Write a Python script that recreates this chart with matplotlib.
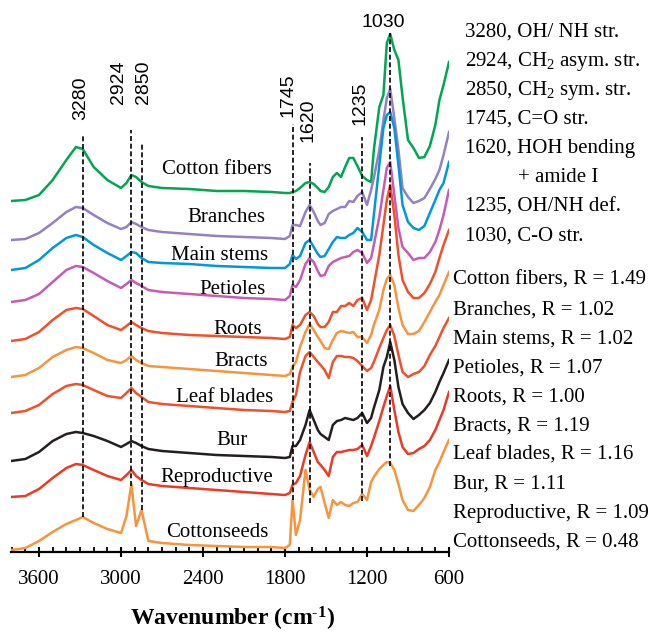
#!/usr/bin/env python3
import matplotlib
matplotlib.use('Agg')
import matplotlib.pyplot as plt
from matplotlib.ticker import MultipleLocator

plt.rcParams['font.family'] = 'Liberation Serif'
plt.rcParams['mathtext.fontset'] = 'custom'
plt.rcParams['mathtext.rm'] = 'Liberation Serif'
plt.rcParams['mathtext.it'] = 'Liberation Serif:italic'
plt.rcParams['mathtext.bf'] = 'Liberation Serif:bold'

wavenumber = [3805, 3700, 3600, 3500, 3400, 3330, 3280, 3200, 3100, 3000,
              2960, 2924, 2890, 2850, 2800, 2700, 2500, 2300, 2100, 1900,
              1800, 1765, 1745, 1720, 1690, 1650, 1620, 1590, 1560, 1540,
              1510, 1480, 1450, 1420, 1390, 1360, 1330, 1300, 1270, 1235,
              1200, 1170, 1150, 1110, 1080, 1055, 1030, 1000, 970, 940,
              900, 860, 820, 780, 740, 700, 670, 640, 600]

# stacked absorbance (arbitrary units)
cotton_fibers = [350, 351, 356, 371, 391, 404, 402, 384, 371, 363,
                 368, 376, 374, 369, 365, 363, 362, 360, 360, 359,
                 358, 358, 359, 360, 363, 368, 369, 367, 363, 360,
                 359, 364, 374, 378, 374, 384, 393, 393, 385, 375,
                 371, 369, 401, 444, 456, 508, 517, 501, 491, 454,
                 411, 403, 393, 394, 405, 426, 451, 466, 489]
branches = [311, 312, 318, 328, 339, 344, 343, 336, 328, 322,
            324, 329, 327, 324, 321, 319, 317, 315, 314, 313,
            312, 315, 326, 326, 325, 339, 346, 339, 330, 326,
            328, 337, 340, 342, 344, 344, 350, 349, 355, 359,
            346, 361, 373, 401, 431, 453, 462, 433, 401, 363,
            354, 348, 350, 353, 362, 372, 381, 396, 419]
main_stems = [281, 283, 291, 303, 313, 316, 314, 306, 298, 291,
              295, 299, 298, 293, 289, 288, 287, 285, 284, 283,
              283, 287, 296, 292, 295, 308, 311, 304, 297, 294,
              295, 302, 309, 314, 313, 313, 316, 318, 323, 319,
              311, 311, 336, 386, 423, 436, 439, 423, 386, 346,
              329, 323, 321, 325, 338, 351, 361, 368, 389]
petioles = [249, 251, 257, 269, 281, 285, 284, 278, 270, 263,
            267, 271, 268, 265, 261, 259, 257, 255, 253, 252,
            251, 255, 266, 264, 271, 287, 293, 289, 280, 275,
            276, 285, 289, 291, 293, 294, 295, 299, 301, 298,
            288, 293, 306, 334, 361, 383, 389, 356, 323, 304,
            298, 291, 293, 293, 299, 309, 321, 336, 361]
roots = [210, 212, 219, 231, 241, 243, 242, 235, 226, 221,
         225, 229, 226, 223, 220, 218, 216, 215, 214, 213,
         212, 214, 226, 223, 226, 236, 239, 235, 227, 224,
         224, 229, 239, 239, 245, 245, 248, 245, 251, 253,
         241, 251, 266, 296, 326, 351, 366, 336, 296, 271,
         259, 253, 253, 258, 267, 279, 293, 306, 321]
bracts = [174, 176, 183, 194, 201, 204, 203, 198, 191, 188,
          191, 195, 191, 188, 185, 184, 182, 180, 178, 176,
          175, 177, 184, 189, 204, 219, 227, 221, 214, 210,
          203, 202, 211, 218, 220, 219, 218, 219, 214, 214,
          208, 216, 226, 241, 261, 272, 276, 266, 243, 226,
          217, 217, 220, 229, 239, 249, 256, 266, 279]
leaf_blades = [138, 140, 146, 157, 165, 167, 166, 161, 155, 153,
               158, 163, 158, 154, 149, 147, 145, 143, 141, 140,
               139, 140, 149, 156, 179, 195, 199, 194, 189, 186,
               181, 173, 189, 195, 195, 194, 194, 193, 190, 185,
               180, 183, 189, 203, 213, 221, 226, 215, 196, 179,
               174, 177, 179, 185, 196, 205, 214, 223, 233]
bur = [90, 92, 99, 110, 117, 119, 118, 115, 110, 104,
       107, 110, 108, 105, 102, 100, 98, 96, 95, 94,
       93, 94, 105, 105, 111, 126, 141, 131, 121, 117,
       114, 111, 126, 130, 131, 133, 132, 131, 133, 138,
       128, 133, 143, 161, 184, 194, 209, 191, 164, 147,
       138, 132, 136, 141, 148, 159, 169, 178, 191]
reproductive = [54, 55, 62, 73, 83, 87, 86, 81, 75, 71,
                76, 81, 75, 71, 67, 65, 63, 61, 59, 57,
                56, 58, 66, 68, 75, 96, 109, 99, 89, 86,
                81, 75, 94, 99, 99, 100, 101, 101, 102, 106,
                95, 105, 113, 130, 144, 155, 165, 141, 119, 104,
                97, 98, 102, 105, 111, 121, 131, 141, 159]
cottonseeds = [1, 3, 10, 19, 27, 31, 34, 28, 22, 18,
               35, 67, 25, 41, 10, 8, 6, 5, 4, 4,
               3, 6, 51, 16, 31, 81, 61, 54, 62, 64,
               48, 33, 51, 46, 49, 46, 45, 48, 49, 57,
               51, 69, 74, 82, 86, 89, 88, 81, 67, 51,
               41, 40, 46, 53, 64, 81, 89, 99, 111]

samples = ['Cotton fibers', 'Branches', 'Main stems', 'Petioles', 'Roots',
           'Bracts', 'Leaf blades', 'Bur', 'Reproductive', 'Cottonseeds']
ratios = [1.49, 1.02, 1.02, 1.07, 1.00, 1.19, 1.16, 1.11, 1.09, 0.48]

bands = [3280, 2924, 2850, 1745, 1620, 1235, 1030]
band_names = ['OH/ NH str.', 'CH$_2$ asym. str.', 'CH$_2$ sym. str.',
              'C=O str.', 'HOH bending', 'OH/NH def.', 'C-O str.']
band_top = [416, 421, 409, 427, 388, 414, 518]
band_bottom = [34, 65, 41, 51, 48, 50, 85]


def main():
    spectra = [cotton_fibers, branches, main_stems, petioles, roots,
               bracts, leaf_blades, bur, reproductive, cottonseeds]
    colors = ['#00a651', '#9580c4', '#0098da', '#c65bb5', '#f0502a',
              '#f7943d', '#f0502a', '#231f20', '#ec3a25', '#f7943d']

    W, H = 650, 633
    fig = plt.figure(figsize=(W / 100, H / 100), dpi=100)
    ax = fig.add_axes([11 / W, (H - 552) / H, 438 / W, 552 / H])

    for y, c in zip(spectra, colors):
        ax.plot(wavenumber, y, color=c, lw=1.8, solid_joinstyle='round')

    # band markers
    for b, top, bot in zip(bands, band_top, band_bottom):
        ax.plot([b, b], [bot, top], color='black', lw=1.2,
                linestyle=(0, (3, 1.6)), zorder=3)

    # band labels (x offsets keep 2924/2850 apart)
    label_x = [3293, 3022, 2839, 1779, 1632, 1252]
    label_y = [431, 447, 447, 434, 409, 426]
    for b, lx, ly in zip(bands[:6], label_x, label_y):
        ax.text(lx, ly, str(b), rotation=90, ha='center', va='bottom',
                family='Liberation Sans', fontsize=14)
    ax.text(1084, 524, str(bands[6]), ha='center', va='baseline',
            family='Liberation Sans', fontsize=14)

    # sample names next to each curve
    name_x = [2300, 2227, 2276, 2181, 2148, 2122, 2239, 2185, 2300, 2294]
    name_y = [377, 329, 291, 257, 217, 185, 149, 106, 69, 14]
    for name, nx, ny in zip(samples, name_x, name_y):
        ax.text(nx, ny, name, ha='center', va='baseline', fontsize=15)

    # band assignments, top right
    rows = ['%d, %s' % (b, n) for b, n in zip(bands, band_names)]
    rows.insert(5, '')
    for i, r in enumerate(rows):
        fig.text(465 / W, 1 - (36.5 + 29.1 * i) / H, r,
                 ha='left', va='baseline', fontsize=15)
    fig.text(518 / W, 1 - (36.5 + 29.1 * 5) / H, '+ amide I',
             ha='left', va='baseline', fontsize=15)

    # ratio list, bottom right
    for i, (name, r) in enumerate(zip(samples, ratios)):
        fig.text(453 / W, 1 - (285 + 29.1 * i) / H,
                 '%s, R = %.2f' % (name, r),
                 ha='left', va='baseline', fontsize=15)

    ax.set_xlim(3805, 600)
    ax.set_ylim(-1, 551)
    ax.set_yticks([])
    for s in ['left', 'top', 'right']:
        ax.spines[s].set_visible(False)
    ax.spines['bottom'].set_linewidth(1.6)
    ax.xaxis.set_major_locator(MultipleLocator(600))
    ax.xaxis.set_minor_locator(MultipleLocator(100))
    ax.tick_params(axis='x', which='major', direction='inout', length=6.5,
                   width=1.5, labelsize=15, pad=9.5)
    ax.tick_params(axis='x', which='minor', direction='in', length=3.5,
                   width=1.3)
    ax.set_xlabel('Wavenumber (cm$^{\\text{-}\\mathbf{1}}$)', fontsize=17,
                  fontweight='bold')
    ax.xaxis.set_label_coords(0.5068, -0.096)

    fig.savefig('out.png', dpi=100)


if __name__ == '__main__':
    main()
